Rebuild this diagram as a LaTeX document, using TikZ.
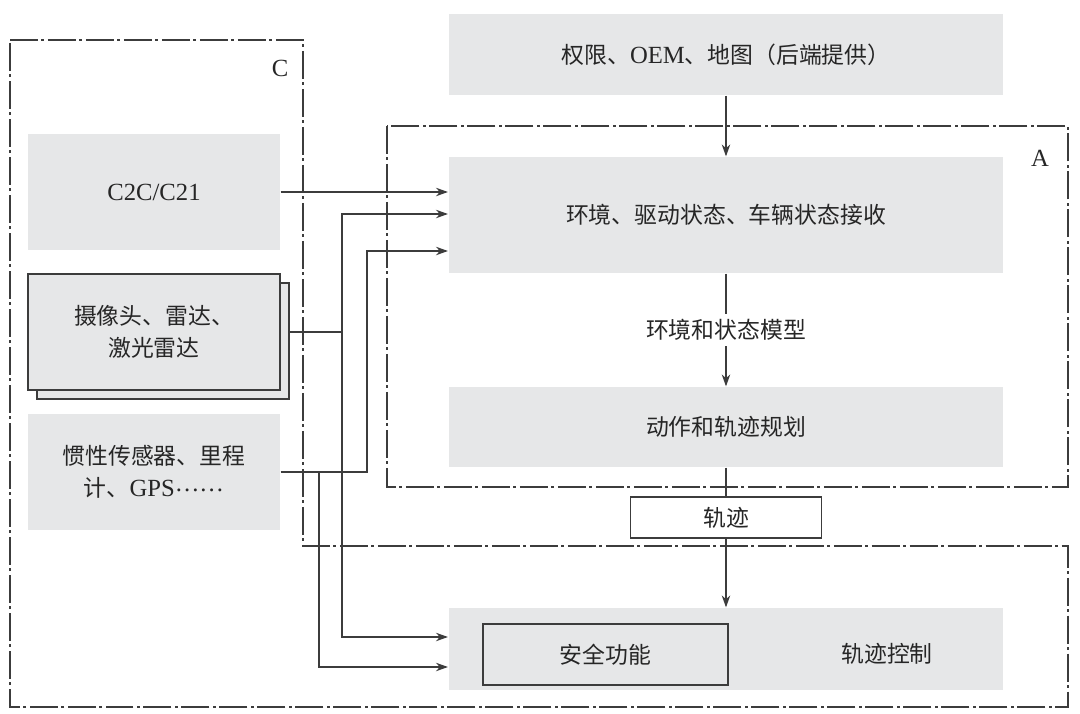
\documentclass[tikz,border=0pt]{standalone}
\usepackage{fontspec}
\setmainfont[Scale=1.08]{Liberation Serif}
\newfontfamily\cjk{Noto Sans CJK SC}
\usetikzlibrary{arrows.meta,positioning}
\definecolor{boxgray}{HTML}{E6E7E8}
\definecolor{linegray}{HTML}{3C3C3C}
\tikzset{
  graybox/.style={fill=boxgray, minimum width=11.1cm, minimum height=1.62cm, inner sep=0pt},
  srcbox/.style={fill=boxgray, minimum width=5.04cm, minimum height=2.32cm, align=center, inner sep=0pt},
  zone/.style={-, draw=linegray, line width=0.6pt, dash pattern=on 0.56cm off 0.07cm on 0.06cm off 0.07cm},
}

\begin{document}
\begin{tikzpicture}[x=0.02cm, y=-0.02cm, ->, >={Stealth[length=2.4mm,width=1.7mm]}, line width=0.7pt, draw=linegray, text=black!85, font=\fontsize{13}{18}\selectfont]
\useasboundingbox (0,0) rectangle (1080,714);
% zones
\draw[zone] (10,40) -- (303,40) -- (303,546) -- (1068,546) -- (1068,707) -- (10,707) -- cycle;
\draw[zone] (387,126) rectangle (1068,487);
\node (zoneC) at (280,68) {C};
\node (zoneA) at (1040,158) {A};
% right column
\node (perm) [graybox] at (726,54.5) {{\cjk 权限、}OEM{\cjk 、地图（后端提供）}};
\node (recv) [graybox, minimum height=2.32cm] at (726,215) {\cjk 环境、驱动状态、车辆状态接收};
\node (plan) [graybox, minimum height=1.6cm] at (726,427) {\cjk 动作和轨迹规划};
\node (ctrl) [graybox, minimum height=1.64cm] at (726,649) {};
\node (safe) [draw=linegray, fill=boxgray, minimum width=4.9cm, minimum height=1.22cm] at (605.5,654.5) {\cjk 安全功能};
\node (ctrltxt) at (887,654) {\cjk 轨迹控制};
\node (traj) [draw=linegray, fill=white, minimum width=3.82cm, minimum height=0.82cm] at (726,517.5) {\cjk 轨迹};
% sensors
\node (c2c) [srcbox] at (154,192) {C2C/C21};
\node (camback) [srcbox, draw=linegray] at (163,341) {};
\node (cam) [srcbox, draw=linegray] at (154,332) {{\cjk 摄像头、雷达、}\\{\cjk 激光雷达}};
\node (imu) [srcbox] at (154,472) {{\cjk 惯性传感器、里程}\\{\cjk 计、}GPS\raisebox{0.22em}{……}};
\coordinate (camturn) at (342,214);
\coordinate (camdown) at (342,637);
\coordinate (imuturn) at (367,251);
\coordinate (imudown) at (319,667);
\path (perm) edge (recv)
      (recv) edge node[fill=white, inner sep=3pt] {\cjk 环境和状态模型} (plan)
      (traj) edge (ctrl);
\draw[-] (plan) -- (traj);
\draw (c2c.east) -- (c2c.east -| recv.west);
\draw (camback.east |- cam.east) -| (camturn) -- (camturn -| recv.west);
\draw (camdown |- cam.east) -- (camdown) -- (camdown -| ctrl.west);
\draw (imu.east) -| (imuturn) -- (imuturn -| recv.west);
\draw (imudown |- imu.east) -- (imudown) -- (imudown -| ctrl.west);
\end{tikzpicture}
\end{document}
